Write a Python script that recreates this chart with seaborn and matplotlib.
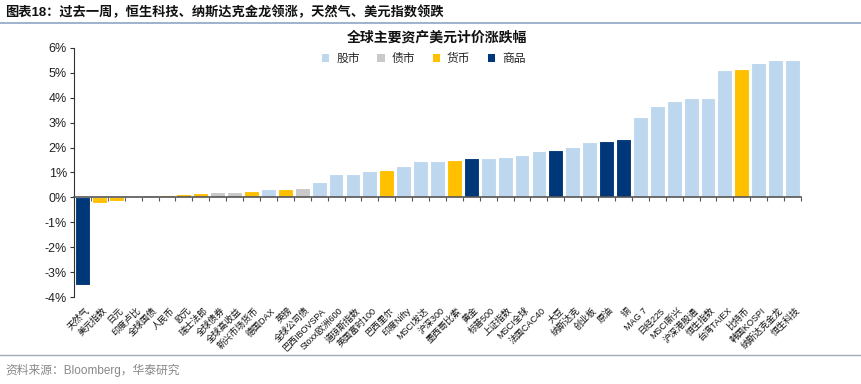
import matplotlib
matplotlib.use("Agg")
import matplotlib.pyplot as plt
import matplotlib.transforms as mtransforms
from matplotlib.patches import Patch
from matplotlib.lines import Line2D
import seaborn as sns
import pandas as pd

names = ["天然气", "美元指数", "日元", "印度卢比", "全球国债", "人民币", "欧元", "瑞士法郎",
         "全球债券", "全球高收益", "新兴市场货币", "德国DAX", "英镑", "全球公司债",
         "巴西IBOVSPA", "Stoxx欧洲600", "道琼斯指数", "英国富时100", "巴西里尔",
         "印度Nifty", "MSCI发达", "沪深300", "墨西哥比索", "黄金", "标普500", "上证指数",
         "MSCI全球", "法国CAC40", "大豆", "纳斯达克", "创业板", "原油", "铜", "MAG 7",
         "日经225", "MSCI新兴", "沪深港股通", "恒生指数", "台湾TAIEX", "比特币",
         "韩国KOSPI", "纳斯达克金龙", "恒生科技"]
values = [-3.50, -0.22, -0.15, -0.03, 0.08, 0.10, 0.15, 0.18,
          0.20, 0.20, 0.25, 0.33, 0.35, 0.37,
          0.60, 0.92, 0.94, 1.06, 1.09,
          1.27, 1.46, 1.48, 1.50, 1.57, 1.58, 1.62,
          1.71, 1.85, 1.91, 2.02, 2.22, 2.27, 2.36, 3.21,
          3.68, 3.89, 3.99, 4.01, 5.12, 5.17,
          5.40, 5.50, 5.50]
types = ["商品", "货币", "货币", "货币", "债市", "货币", "货币", "货币",
         "债市", "债市", "货币", "股市", "货币", "债市",
         "股市", "股市", "股市", "股市", "货币",
         "股市", "股市", "股市", "货币", "商品", "股市", "股市",
         "股市", "股市", "商品", "股市", "股市", "商品", "商品", "股市",
         "股市", "股市", "股市", "股市", "股市", "货币",
         "股市", "股市", "股市"]
legend_order = ["股市", "债市", "货币", "商品"]
yticks = [-4, -3, -2, -1, 0, 1, 2, 3, 4, 5, 6]

palette = {"股市": "#BDD7EE", "债市": "#C9C9C9", "货币": "#FFC000", "商品": "#003778"}

sns.set_theme(style="white")
plt.rcParams["font.family"] = ["Liberation Sans", "Noto Sans CJK SC", "DejaVu Sans"]

df = pd.DataFrame({"name": names, "value": values, "type": types})

fig = plt.figure(figsize=(8.61, 3.84), dpi=100)
ax = fig.add_axes([74 / 861, 1 - 297 / 384, (801 - 74) / 861, (297 - 48) / 384])

sns.barplot(data=df, x="name", y="value", hue="type", order=names, palette=palette,
            dodge=False, width=0.88, edgecolor="white", linewidth=0.8, legend=False,
            saturation=1, ax=ax)

ax.set_xlim(-0.5, len(names) - 0.5)
ax.set_ylim(-4, 6)
ax.set_yticks(yticks)
ax.set_yticklabels([f"{t}%" for t in yticks], fontsize=9, color="#222222")
ax.set_xlabel("")
ax.set_ylabel("")

for s in ["top", "right"]:
    ax.spines[s].set_visible(False)
ax.spines["left"].set_color("#333333")
ax.spines["left"].set_linewidth(0.8)
ax.spines["bottom"].set_position(("data", 0))
ax.spines["bottom"].set_color("#555555")
ax.spines["bottom"].set_linewidth(1.2)
ax.tick_params(axis="y", which="major", left=True, length=3, width=0.8, color="#333333", pad=2)
ax.set_xticks([i - 0.5 for i in range(len(names) + 1)])
ax.set_xticklabels([])
ax.tick_params(axis="x", which="major", bottom=True, length=3, width=0.8, color="#555555")
ax.grid(False)

trans = mtransforms.blended_transform_factory(ax.transData, fig.transFigure)
for i, n in enumerate(names):
    ax.text(i + 0.15, 1 - 306 / 384, n, transform=trans, rotation=45, ha="right", va="top",
            rotation_mode="anchor", fontsize=6.5, color="#111111")

handles = [Patch(facecolor=palette[t], edgecolor="none") for t in legend_order]
fig.legend(handles, legend_order, loc="center", bbox_to_anchor=(424 / 861, 1 - 59 / 384),
           ncol=4, frameon=False, fontsize=8.5, handlelength=0.6, handleheight=0.6,
           columnspacing=1.5, handletextpad=0.6)

fig.text(437 / 861, 1 - 38 / 384, "全球主要资产美元计价涨跌幅", ha="center", va="center",
         fontsize=10, fontweight="bold", color="#111111")
fig.text(5 / 861, 1 - 12 / 384, "图表18：过去一周，恒生科技、纳斯达克金龙领涨，天然气、美元指数领跌",
         ha="left", va="center", fontsize=9.5, fontweight="bold", color="#111111")
fig.add_artist(Line2D([0, 1], [1 - 23 / 384, 1 - 23 / 384], transform=fig.transFigure,
                      color="#8EA6C4", linewidth=1.2))
fig.add_artist(Line2D([0, 1], [1 - 355 / 384, 1 - 355 / 384], transform=fig.transFigure,
                      color="#A0AAB8", linewidth=1.0))
fig.text(5 / 861, 1 - 370 / 384, "资料来源：Bloomberg，华泰研究", ha="left", va="center",
         fontsize=8.5, color="#888888")

fig.savefig("out.png", dpi=100)
